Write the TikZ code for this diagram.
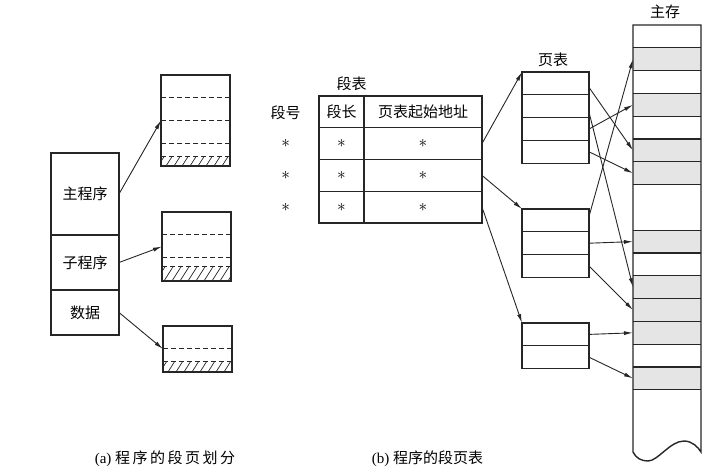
\documentclass[tikz,border=0pt]{standalone}
\usepackage{fontspec}
\setmainfont{Liberation Serif}
\newfontfamily\cjk{Noto Sans CJK SC}
\usetikzlibrary{arrows.meta}
\definecolor{ink}{gray}{0.15}
\definecolor{memgray}{gray}{0.90}
\begin{document}
\begin{tikzpicture}[x=1pt,y=-1pt,
  every node/.style={inner sep=0pt,outer sep=0pt},
  txt/.style={font=\fontsize{15}{18}\selectfont\cjk},
  capt/.style={font=\fontsize{15}{18}\selectfont},
  starmark/.style={font=\fontsize{16}{16}\selectfont},
  part/.style={draw=ink,line width=1.4pt,minimum width=68pt},
  pagebox/.style={draw=ink,line width=1.4pt,minimum width=69pt},
  tcell/.style={draw=ink,line width=1.1pt,minimum height=31.75pt},
  prow/.style={draw=ink,line width=1.1pt,minimum width=67pt,minimum height=22.8pt},
  mcell/.style={minimum width=68pt,minimum height=22.8pt},
  frame/.style={draw=ink,line width=1.4pt},
  link/.style={draw=ink,line width=0.9pt,-{Latex[length=9pt,width=4pt]}},
  gap/.style={draw=ink,line width=0.9pt,dash pattern=on 5pt off 3pt},
  hatchline/.style={draw=ink,line width=0.7pt}
]
\useasboundingbox (0,0) rectangle (727,468);

% ---------------- (a) program split into segments and pages
\node[part,minimum height=82pt,txt] (mainp) at (85,194) {主程序};
\node[part,minimum height=55pt,txt] (subp)  at (85,262.5) {子程序};
\node[part,minimum height=45pt,txt] (datap) at (85,312.5) {数据};

\node[pagebox,minimum height=91pt] (pg1) at (195.5,120.5) {};
\node[pagebox,minimum height=69pt] (pg2) at (196.5,246.5) {};
\node[pagebox,minimum height=46pt] (pg3) at (197.5,349) {};

% page boundaries
\foreach \y in {97.7,120.4,143.1,156.7} \draw[gap] (161,\y) -- (230,\y);
\foreach \y in {234.5,257.3,266} \draw[gap] (162,\y) -- (231,\y);
\foreach \y in {348.5,361.7} \draw[gap] (163,\y) -- (232,\y);

% unused tail of the last page
\begin{scope}
  \clip (161,156.7) rectangle (230,166);
  \foreach \x in {150,158,...,238} \draw[hatchline] (\x,166) -- (\x+6,156.7);
\end{scope}
\begin{scope}
  \clip (162,266) rectangle (231,281);
  \foreach \x in {148,156,...,240} \draw[hatchline] (\x,281) -- (\x+9.5,266);
\end{scope}
\begin{scope}
  \clip (163,361.7) rectangle (232,372);
  \foreach \x in {152,160,...,240} \draw[hatchline] (\x,372) -- (\x+6.5,361.7);
\end{scope}

\draw[link] (mainp.east) -- (pg1.west);
\draw[link] (subp.east) -- (pg2.west);
\draw[link] (datap.east) -- (pg3.west);

% ---------------- (b) segment table
\node[txt] (sttitle) at (351.7,84) {段表};
\node[txt] (segno) at (285.7,113) {段号};

\node[tcell,minimum width=45pt,txt]  (hl) at (341.5,111.9) {段长};
\node[tcell,minimum width=118pt,txt] (ha) at (423,111.9) {页表起始地址};
\foreach \r/\y in {1/143.6,2/175.4,3/207.1}{
  \node[tcell,minimum width=45pt]  (l\r) at (341.5,\y) {};
  \node[tcell,minimum width=118pt] (a\r) at (423,\y) {};
  \node[starmark] (ls\r) at (341.5,\y) {$\ast$};
  \node[starmark] (as\r) at (423,\y) {$\ast$};
  \node[starmark] (ns\r) at (285.7,\y) {$\ast$};
}
\draw[frame] (hl.north west) rectangle (a3.south east);

% ---------------- page tables
\node[txt] (pttitle) at (553,60) {页表};
\foreach \n/\y in {a/83.4,b/106.2,c/129,d/151.8} \node[prow] (p1\n) at (555.5,\y) {};
\foreach \n/\y in {a/220.4,b/243.2,c/266} \node[prow] (p2\n) at (555.5,\y) {};
\foreach \n/\y in {a/334.4,b/357.2} \node[prow] (p3\n) at (555.5,\y) {};
\draw[frame] (p1a.north west) rectangle (p1d.south east);
\draw[frame] (p2a.north west) rectangle (p2c.south east);
\draw[frame] (p3a.north west) rectangle (p3b.south east);

\draw[link] (a1.east) -- (p1a.north west);
\draw[link] (a2.east) -- (p2a.north west);
\draw[link] (a3.east) -- (p3a.north west);

% ---------------- main memory
\node[txt] (memtitle) at (665,12) {主存};
\foreach \i in {1,...,16} \node[mcell] (m\i) at (667,{25+22.8*(\i-0.5)}) {};
\foreach \i in {2,4,6,7,10,12,13,14,16}
  \fill[memgray] (m\i.north west) rectangle (m\i.south east);
\foreach \i in {1,2,3,4,5,6,7,9,10,11,12,13,14,15,16}
  \draw[ink,line width=1.1pt] (m\i.south west) -- (m\i.south east);
\draw[frame] (633,452) -- (m1.north west) -- (m1.north east) -- (701,452)
  .. controls (698,447) and (692,441) .. (684,441)
  .. controls (670,441) and (658,461) .. (648,461)
  .. controls (641,461) and (636,458) .. (633,452) -- cycle;

% page table entries to frames
\draw[link] ([yshift=-4pt]p1a.east) -- (m6.west);
\draw[link] ([yshift=-6pt]p1b.east) -- (m12.west);
\draw[link] (p1c.east) -- (m4.west);
\draw[link] (p1d.east) -- (m7.west);
\draw[link] ([yshift=4pt]p2a.east) -- (m2.west);
\draw[link] (p2b.east) -- (m10.west);
\draw[link] (p2c.east) -- (m13.west);
\draw[link] (p3a.east) -- (m14.west);
\draw[link] (p3b.east) -- (m16.west);

% ---------------- captions
\node[capt] (capa) at (165,459) {(a) {\cjk 程\kern2.5pt 序\kern2.5pt 的\kern2.5pt 段\kern2.5pt 页\kern2.5pt 划\kern2.5pt 分}};
\node[capt] (capb) at (427.5,459) {(b) {\cjk 程序的段页表}};
\end{tikzpicture}
\end{document}
